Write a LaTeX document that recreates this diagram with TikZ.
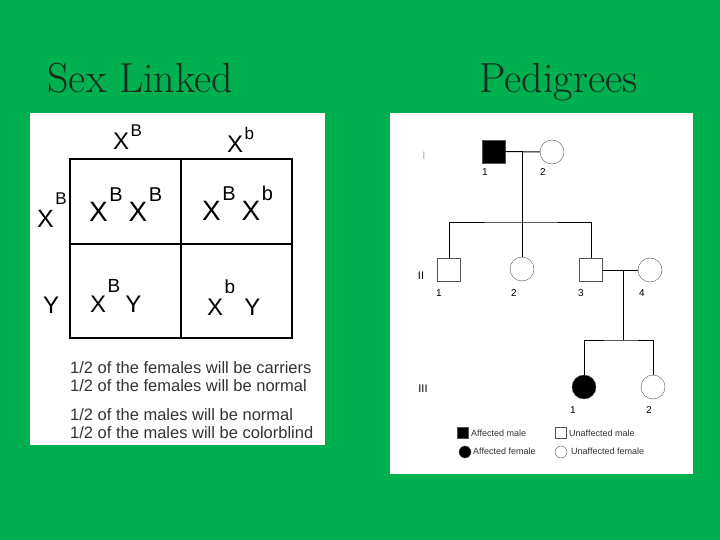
\documentclass[tikz,border=0pt]{standalone}
\usepackage{fontspec}
\setsansfont{Liberation Sans}
\usepackage{tikz}
\definecolor{slideGreen}{HTML}{00B050}
\definecolor{titleInk}{HTML}{1A2A1E}
\definecolor{lineGray}{HTML}{555555}

% raised allele letter after an X
\newcommand{\up}[3]{\hspace{1.5pt}\raisebox{#1}{\fontsize{#2}{#2}\selectfont #3}}

\begin{document}
\begin{tikzpicture}[x=1pt, y=-1pt,
    title/.style={anchor=base west, text=titleInk, font=\fontsize{42}{42}\selectfont},
    allele/.style={anchor=base west, inner sep=0pt, font=\sffamily\fontsize{24}{24}\selectfont},
    ratio/.style={anchor=base west, inner sep=0pt, text=black!80, font=\sffamily\fontsize{16.5}{16.5}\selectfont},
    male/.style={draw=lineGray, minimum size=23pt, inner sep=0pt},
    female/.style={circle, draw=lineGray, minimum size=24pt, inner sep=0pt},
    keymale/.style={draw=lineGray, minimum size=11pt, inner sep=0pt},
    keyfemale/.style={circle, draw=lineGray, minimum size=12pt, inner sep=0pt},
    num/.style={inner sep=0pt, font=\sffamily\fontsize{10}{10}\selectfont},
    gen/.style={inner sep=0pt, font=\sffamily\fontsize{11}{11}\selectfont},
    keytext/.style={anchor=west, inner sep=0pt, text=black!80, font=\sffamily\fontsize{9}{9}\selectfont}]
    \useasboundingbox (0,0) rectangle (720,540);
    \fill[slideGreen] (0,0) rectangle (720,540);

    \node[title] (sexlinked) at (44,93) {Sex Linked};
    \node[title] (pedigrees) at (476,93) {Pedigrees};

    % Punnett square
    \fill[white] (30,113) rectangle (325,445);
    \draw[line width=1.8pt] (70,159) rectangle (292,338);
    \draw[line width=1.8pt] (181,159) -- (181,338);
    \draw[line width=1.8pt] (70,244) -- (292,244);

    \node[allele] (colB) at (113,150) {X\up{13pt}{17}{B}};
    \node[allele] (colb) at (227,153) {X\up{13pt}{17}{b}};
    \node[allele, font=\sffamily\fontsize{25}{25}\selectfont] (rowB) at (37,228) {X\up{23pt}{17}{B}};
    \node[allele] (rowY) at (43,313) {Y};

    \node[allele, font=\sffamily\fontsize{28}{28}\selectfont] (cellBB) at (89,222)
        {X\up{20pt}{20}{B}\hspace{6pt}X\up{20pt}{20}{B}};
    \node[allele, font=\sffamily\fontsize{28}{28}\selectfont] (cellBb) at (202,221)
        {X\up{20pt}{20}{B}\hspace{6pt}X\up{20pt}{20}{b}};
    \node[allele] (cellBY) at (90,312) {X\up{20pt}{19}{B}\hspace{5pt}Y};
    \node[allele] (cellbY) at (207,315) {X\up{22pt}{19}{b}\hspace{9pt}Y};

    \node[ratio] (line1) at (70,373) {1/2 of the females will be carriers};
    \node[ratio] (line2) at (70,391) {1/2 of the females will be normal};
    \node[ratio] (line3) at (70,420) {1/2 of the males will be normal};
    \node[ratio] (line4) at (70,438) {1/2 of the males will be colorblind};

    % pedigree chart
    \fill[white] (390,113) rectangle (693,474);

    \node[gen, text=black!30] (genI) at (424,156) {I};
    \node[gen] (genII) at (421,276) {II};
    \node[gen] (genIII) at (423,389) {III};

    \node[male, fill=black] (i1) at (493.5,151.5) {};
    \node[female] (i2) at (552,152) {};
    \node[male] (ii1) at (449,270) {};
    \node[female] (ii2) at (522,269) {};
    \node[male] (ii3) at (591,270) {};
    \node[female] (ii4) at (650,270) {};
    \node[female, fill=black] (iii1) at (584,387) {};
    \node[female] (iii2) at (653,387) {};

    \coordinate (mate1) at (522,152);
    \coordinate (sib1) at (522,223);
    \coordinate (mate2) at (623,270);
    \coordinate (sib2) at (623,340);

    \begin{scope}[line width=1pt]
    \draw (i1) -- (i2);
    \draw (mate1) -- (sib1);
    \draw (ii1.north) |- (sib1) -| (ii3.north);
    \draw (sib1) -- (ii2.north);
    \draw (ii3) -- (ii4);
    \draw (mate2) -- (sib2);
    \draw (iii1.north) |- (sib2) -| (iii2.north);
    \end{scope}

    \node[num] (n11) at (485,172) {1};
    \node[num] (n12) at (543,172) {2};
    \node[num] (n21) at (439,293) {1};
    \node[num] (n22) at (514,293) {2};
    \node[num] (n23) at (581,293) {3};
    \node[num] (n24) at (642,293) {4};
    \node[num] (n31) at (573,410) {1};
    \node[num] (n32) at (649,410) {2};

    % key
    \node[keymale, fill=black] (keyam) at (463,433) {};
    \node[keymale] (keyum) at (561,433) {};
    \node[keyfemale, fill=black] (keyaf) at (465,452) {};
    \node[keyfemale] (keyuf) at (561,452) {};
    \node[keytext] at (471,433) {Affected male};
    \node[keytext] at (569,433) {Unaffected male};
    \node[keytext] at (473,451) {Affected female};
    \node[keytext] at (571,451) {Unaffected female};
\end{tikzpicture}
\end{document}
